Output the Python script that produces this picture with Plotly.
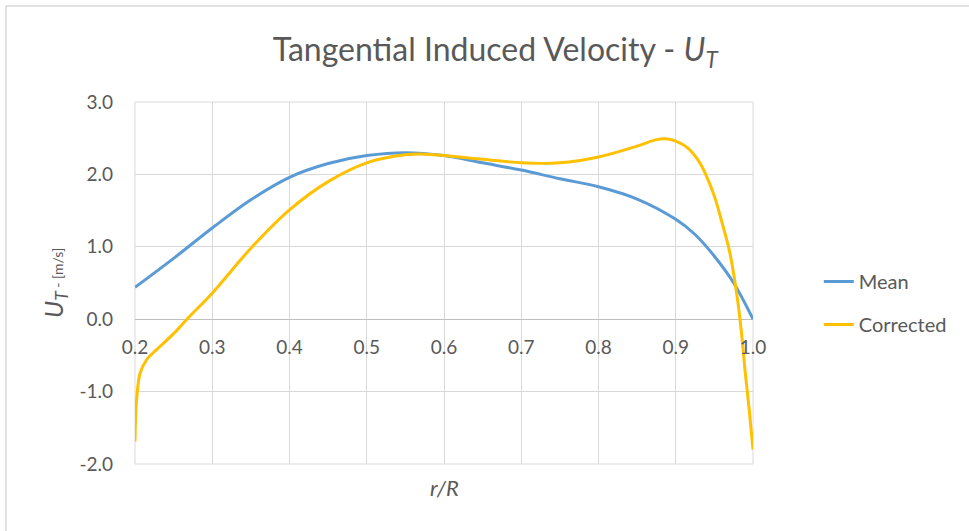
import plotly.graph_objects as go

# ---- data ----
r_mean = [0.2, 0.25, 0.3, 0.35, 0.4, 0.45, 0.5, 0.55, 0.6, 0.65, 0.7, 0.75,
          0.8, 0.85, 0.9, 0.925, 0.95, 0.975, 1.0]
u_mean = [0.44, 0.84, 1.26, 1.65, 1.96, 2.15, 2.26, 2.30, 2.26, 2.16, 2.06, 1.94,
          1.83, 1.66, 1.38, 1.17, 0.87, 0.50, 0.0]

r_corr = [0.2, 0.2008, 0.2021, 0.2065, 0.215, 0.228, 0.25, 0.269, 0.3, 0.35, 0.4,
          0.45, 0.5, 0.55, 0.575, 0.6, 0.65, 0.7, 0.75, 0.8, 0.85, 0.875, 0.89,
          0.9, 0.915, 0.93, 0.94, 0.95, 0.96, 0.97, 0.98, 0.985, 0.99, 0.995, 1.0]
u_corr = [-1.69, -1.35, -1.11, -0.75, -0.56, -0.42, -0.20, 0.02, 0.36, 0.98, 1.51,
          1.90, 2.16, 2.27, 2.28, 2.26, 2.21, 2.16, 2.16, 2.24, 2.39, 2.48, 2.49,
          2.46, 2.37, 2.18, 1.97, 1.70, 1.33, 0.92, 0.27, -0.18, -0.74, -1.24, -1.80]

x_ticks = [0.2, 0.3, 0.4, 0.5, 0.6, 0.7, 0.8, 0.9, 1.0]
y_ticks = [-2.0, -1.0, 0.0, 1.0, 2.0, 3.0]
y_tick_text = ["-2.0", "-1.0", "0.0", "1.0", "2.0", "3.0"]

FONT = "Lato"
GRAY = "#595959"
GRID = "#D9D9D9"

fig = go.Figure()
fig.add_trace(go.Scatter(x=r_mean, y=u_mean, mode="lines", name="Mean",
                         legendgroup="a",
                         line=dict(color="#5B9BD5", width=3, shape="spline", smoothing=1.0)))
fig.add_trace(go.Scatter(x=r_corr, y=u_corr, mode="lines", name="Corrected",
                         legendgroup="b",
                         line=dict(color="#FFC000", width=3, shape="spline", smoothing=1.0)))

fig.update_layout(
    width=969, height=531,
    margin=dict(l=135, r=216, t=102, b=67),
    paper_bgcolor="white", plot_bgcolor="white",
    font=dict(family=FONT, color=GRAY, size=18),
    title=dict(text="Tangential Induced Velocity - <i>U<sub>T</sub></i>",
               xref="container", x=0.511, xanchor="center",
               yref="container", y=1 - 50 / 531, yanchor="middle",
               font=dict(size=32, color=GRAY, family=FONT)),
    showlegend=True,
    legend=dict(xref="container", yref="container", x=0.845, y=1 - 262 / 531,
                xanchor="left", yanchor="top", tracegroupgap=14,
                traceorder="grouped",
                font=dict(size=20, color=GRAY, family=FONT),
                bgcolor="rgba(0,0,0,0)"),
    xaxis=dict(range=[0.2, 1.0], tickvals=x_ticks, tickformat=".1f",
               showgrid=True, gridcolor=GRID, gridwidth=1, zeroline=False,
               showline=False, anchor="free", position=0.4,
               ticks="", ticklabelstandoff=15,
               tickfont=dict(size=19, color=GRAY, family=FONT)),
    yaxis=dict(range=[-2.0, 3.0], tickvals=y_ticks, ticktext=y_tick_text,
               showgrid=True, gridcolor=GRID, gridwidth=1,
               zeroline=True, zerolinecolor="#BFBFBF", zerolinewidth=1,
               showline=False, ticks="", ticklabelstandoff=21,
               tickfont=dict(size=19, color=GRAY, family=FONT)),
)

# axis titles
fig.add_annotation(text="<i>U<sub>T</sub></i><span style='font-size:14px'> - [m/s]</span>",
                   xref="paper", yref="paper", x=(55 - 135) / 618, y=0.5,
                   textangle=-90, showarrow=False, xanchor="center", yanchor="middle",
                   font=dict(size=25, color=GRAY, family=FONT))
fig.add_annotation(text="<i>r/R</i>", xref="paper", yref="paper",
                   x=0.5, y=(464 - 487) / 362, showarrow=False,
                   xanchor="center", yanchor="middle",
                   font=dict(size=22, color=GRAY, family=FONT))

# plot-area edge gridlines
fig.add_shape(type="rect", xref="paper", yref="paper", x0=0, x1=1, y0=0, y1=1,
              line=dict(color=GRID, width=1), fillcolor="rgba(0,0,0,0)", layer="below")

# chart border
fig.add_shape(type="rect", xref="paper", yref="paper",
              x0=(6 - 135) / 618, x1=(990 - 135) / 618,
              y0=(464 - 550) / 362, y1=(464 - 6) / 362,
              line=dict(color=GRID, width=1.5), fillcolor="rgba(0,0,0,0)", layer="below")

fig.write_html("out.html")
